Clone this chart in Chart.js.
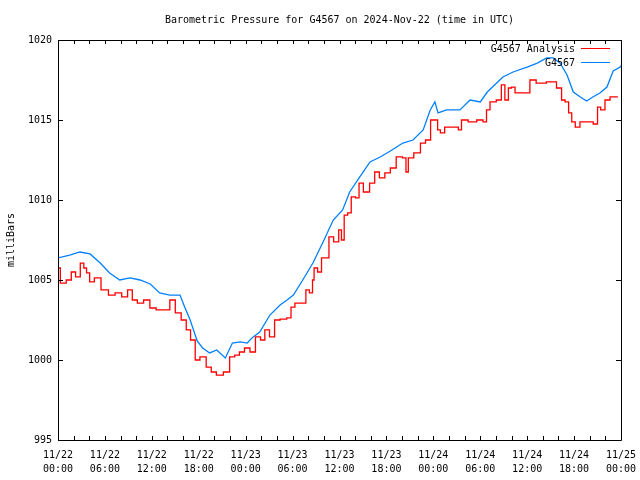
<!DOCTYPE html>
<html>
<head>
<meta charset="utf-8">
<title>Barometric Pressure for G4567</title>
<script src="https://cdn.jsdelivr.net/npm/chart.js@4.4.1/dist/chart.umd.min.js"></script>
<style>
    html, body { margin: 0; padding: 0; background: #fff; }
    #wrap { width: 640px; height: 480px; }
</style>
</head>
<body>
<div id="wrap"><canvas id="pressureChart"></canvas></div>
<script>
// times are hours since 2024-11-22 00:00 UTC

// G4567 Analysis (red)
const analysisHours = [0.0, 0.6, 1.5, 1.9, 2.6, 3.1, 3.5, 3.8, 4.3, 5.0, 6.0, 6.9, 7.7, 8.6, 9.2, 9.8, 10.5, 11.4,
    12.1, 13.0, 13.9, 14.7, 15.3, 16.2, 16.6, 17.3, 17.8, 18.5, 19.4, 19.8, 20.7, 21.6, 22.3, 22.9, 23.5,
    24.2, 24.9, 25.6, 26.2, 26.7, 27.4, 28.0, 28.8, 29.7, 29.9, 30.7, 31.6, 31.8, 32.5, 32.6, 32.9, 33.5,
    33.9, 34.5, 34.8, 35.7, 36.1, 36.4, 36.8, 37.3, 37.7, 38.4, 38.6, 39.5, 40.2, 40.8, 41.4, 42.2, 42.8,
    43.7, 44.4, 44.6, 45.0, 46.0, 46.7, 47.3, 48.0, 48.5, 48.6, 49.2, 49.7, 51.0, 51.4, 51.8, 53.1, 54.0,
    54.7, 54.9, 55.6, 56.5, 56.9, 57.4, 57.8, 58.2, 58.7, 60.0, 60.7, 61.6, 63.3, 64.2, 64.6, 65.1, 65.5,
    65.9, 66.4, 67.1, 68.0, 68.9, 69.1, 69.7, 70.2, 71.0, 71.6];
const analysisValues = [1005.75, 1004.81, 1005.0, 1005.5, 1005.19, 1006.06, 1005.75, 1005.44, 1004.88, 1005.13,
    1004.38, 1004.06, 1004.19, 1003.94, 1004.38, 1003.75, 1003.56, 1003.75,
    1003.25, 1003.13, 1003.13, 1003.75, 1002.94, 1002.5, 1001.88, 1001.25, 1000.0, 1000.19, 999.56, 999.25,
    999.06, 999.25, 1000.19, 1000.31, 1000.5,
    1000.75, 1000.5, 1001.44, 1001.25, 1001.88, 1001.44, 1002.5, 1002.56, 1002.63, 1003.31, 1003.56, 1003.56,
    1004.38, 1004.19, 1005.0, 1005.75, 1005.5,
    1006.38, 1006.38, 1007.69, 1007.38, 1008.13, 1007.5, 1009.06, 1009.19, 1010.19, 1010.13, 1011.06, 1010.5,
    1011.06, 1011.75, 1011.38, 1011.69, 1012.0,
    1012.69, 1012.63, 1011.75, 1012.63, 1012.94, 1013.56, 1013.75, 1015.0, 1015.0, 1014.38, 1014.19, 1014.56,
    1014.56, 1014.38, 1015.0, 1014.88, 1015.0,
    1014.88, 1015.63, 1016.13, 1016.25, 1017.19, 1016.25, 1017.0, 1017.06, 1016.69, 1016.69, 1017.5, 1017.31,
    1017.38, 1017.0, 1016.25, 1016.13, 1015.44,
    1014.88, 1014.56, 1014.88, 1014.88, 1014.75, 1015.81, 1015.63, 1016.25, 1016.44, 1016.44];

// G4567 observed (blue)
const observedHours = [0.0, 1.5, 2.8, 4.1, 5.4, 6.6, 7.9, 9.2, 10.5, 11.8, 13.0, 14.3, 15.6, 16.2, 16.9, 17.8,
    18.5, 19.4, 20.3, 21.4, 22.3, 23.3, 24.2, 24.8, 25.8, 27.1, 28.4, 29.3, 30.1, 31.3, 32.6, 33.9, 35.2,
    36.4, 37.3, 38.6, 39.9, 41.2, 42.5, 44.1, 45.4, 46.7, 47.6, 48.2, 48.6, 49.7, 51.4, 52.7, 54.0, 54.9,
    56.1, 56.9, 58.2, 60.0, 61.3, 62.5, 63.3, 64.2, 65.1, 65.9, 66.8, 67.6, 68.4, 69.3, 70.2, 71.0, 71.9, 72.0];
const observedValues = [1006.38, 1006.56, 1006.75, 1006.63, 1006.06, 1005.44, 1005.0, 1005.13, 1005.0, 1004.75,
    1004.19, 1004.06, 1004.06, 1003.31, 1002.5, 1001.19,
    1000.75, 1000.44, 1000.63, 1000.13, 1001.06, 1001.13, 1001.06, 1001.38, 1001.75, 1002.81, 1003.44, 1003.75,
    1004.06, 1005.0, 1006.06, 1007.38, 1008.75,
    1009.38, 1010.5, 1011.44, 1012.38, 1012.69, 1013.06, 1013.56, 1013.75, 1014.38, 1015.63, 1016.13, 1015.44,
    1015.63, 1015.63, 1016.25, 1016.13, 1016.75,
    1017.31, 1017.69, 1018.0, 1018.31, 1018.56, 1018.88, 1018.88, 1018.56, 1017.81, 1016.75, 1016.44, 1016.19,
    1016.44, 1016.69, 1017.06, 1018.06, 1018.31, 1018.4];

// labels every 6 hours
const xTickLabels = [
    ['11/22', '00:00'], ['11/22', '06:00'], ['11/22', '12:00'], ['11/22', '18:00'],
    ['11/23', '00:00'], ['11/23', '06:00'], ['11/23', '12:00'], ['11/23', '18:00'],
    ['11/24', '00:00'], ['11/24', '06:00'], ['11/24', '12:00'], ['11/24', '18:00'],
    ['11/25', '00:00']
];

const seriesNames = ['G4567 Analysis', 'G4567'];
const seriesColors = ['#ff0000', '#0080ff'];

const monoFont = { family: 'DejaVu Sans Mono', size: 10, weight: 'normal' };

function toPoints(xs, ys) {
    return xs.map(function (x, i) { return { x: x, y: ys[i] }; });
}

// gnuplot style frame, inward ticks and key
const frameKey = {
    id: 'frameKey',
    afterDatasetsDraw(chart) {
        const ctx = chart.ctx,
            a = chart.chartArea,
            xs = chart.scales.x,
            ys = chart.scales.y;

        ctx.save();
        ctx.strokeStyle = '#000';
        ctx.lineWidth = 1;
        ctx.beginPath();
        ctx.rect(Math.round(a.left) + 0.5, Math.round(a.top) + 0.5,
            Math.round(a.right - a.left), Math.round(a.bottom - a.top));

        xs.ticks.forEach(function (t) {
            let px = Math.round(xs.getPixelForValue(t.value)) + 0.5;
            ctx.moveTo(px, a.bottom);
            ctx.lineTo(px, a.bottom - 4);
            ctx.moveTo(px, a.top);
            ctx.lineTo(px, a.top + 4);
        });
        ys.ticks.forEach(function (t) {
            let py = Math.round(ys.getPixelForValue(t.value)) + 0.5;
            ctx.moveTo(a.left, py);
            ctx.lineTo(a.left + 5, py);
            ctx.moveTo(a.right, py);
            ctx.lineTo(a.right - 5, py);
        });
        ctx.stroke();

        // key
        ctx.font = '10px "DejaVu Sans Mono"';
        ctx.textAlign = 'right';
        ctx.textBaseline = 'middle';
        seriesNames.forEach(function (name, i) {
            let y = a.top + 9 + i * 14;
            ctx.fillStyle = '#000';
            ctx.fillText(name, a.right - 46, y);
            ctx.strokeStyle = seriesColors[i];
            ctx.beginPath();
            ctx.moveTo(a.right - 40, Math.round(y) - 0.5);
            ctx.lineTo(a.right - 11, Math.round(y) - 0.5);
            ctx.stroke();
        });
        ctx.restore();
    }
};

Chart.defaults.color = '#000';
Chart.defaults.font.family = 'DejaVu Sans Mono';
Chart.defaults.font.size = 10;

let ctx = document.getElementById('pressureChart');
let pressureChart = new Chart(ctx, {
    type: 'line',
    data: {
        datasets: [{
            label: seriesNames[0],
            data: toPoints(analysisHours, analysisValues),
            borderColor: seriesColors[0],
            borderWidth: 1.3,
            pointRadius: 0,
            stepped: 'middle'
        }, {
            label: seriesNames[1],
            data: toPoints(observedHours, observedValues),
            borderColor: seriesColors[1],
            borderWidth: 1.3,
            pointRadius: 0,
            tension: 0
        }]
    },
    options: {
        responsive: true,
        maintainAspectRatio: false,
        animation: false,
        devicePixelRatio: 1,
        layout: { padding: { left: 0, right: 19, top: 0, bottom: 0 } },
        plugins: {
            legend: { display: false },
            tooltip: { enabled: false },
            title: {
                display: true,
                text: 'Barometric Pressure for G4567 on 2024-Nov-22 (time in UTC)',
                font: monoFont,
                color: '#000',
                fullSize: false,
                padding: { top: 14, bottom: 14 }
            }
        },
        scales: {
            x: {
                type: 'linear',
                min: 0,
                max: 72,
                grid: { display: false, drawTicks: false },
                border: { display: false },
                ticks: {
                    stepSize: 2,
                    autoSkip: false,
                    maxRotation: 0,
                    padding: 9,
                    font: { family: 'DejaVu Sans Mono', size: 10, lineHeight: 1.35 },
                    callback: function (v) {
                        return v % 6 === 0 ? xTickLabels[v / 6] : '';
                    }
                },
                afterFit: function (s) {
                    s.height = 40;
                    s.paddingLeft = 0;
                    s.paddingRight = 0;
                }
            },
            y: {
                min: 995,
                max: 1020,
                grid: { display: false, drawTicks: false },
                border: { display: false },
                ticks: {
                    stepSize: 5,
                    padding: 6,
                    font: monoFont,
                    callback: function (v) { return String(v); }
                },
                title: {
                    display: true,
                    text: 'milliBars',
                    font: monoFont,
                    padding: { top: 5, bottom: 0 }
                },
                afterFit: function (s) { s.width = 58; }
            }
        }
    },
    plugins: [frameKey]
});
</script>
</body>
</html>
